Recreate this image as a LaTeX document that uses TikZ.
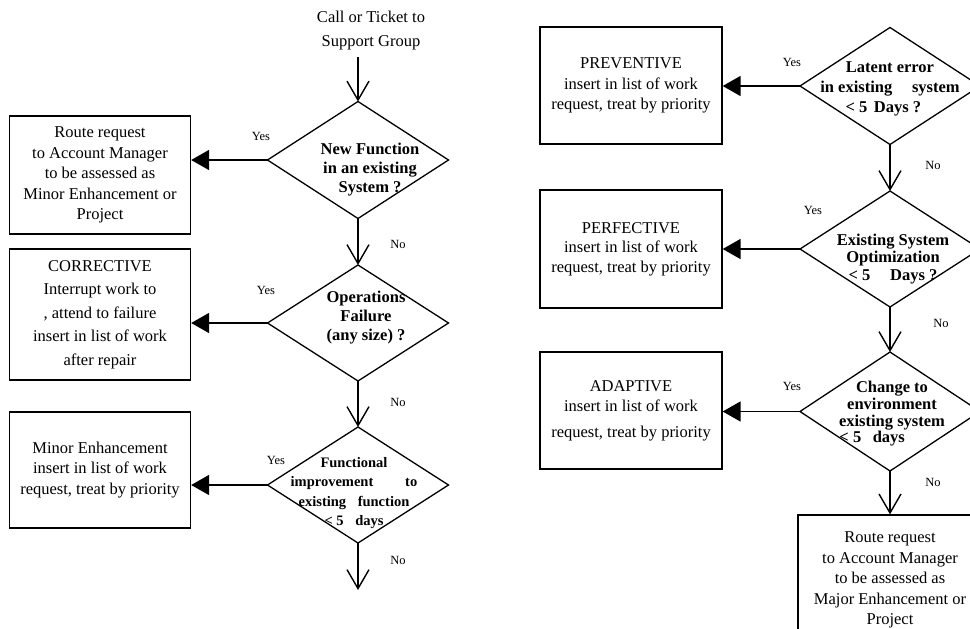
\documentclass[tikz,border=0pt]{standalone}
\usepackage{fontspec}
\setmainfont{Liberation Serif}
\usetikzlibrary{arrows.meta,shapes.geometric}
\tikzset{
	taskbox/.style={draw, line width=1.3pt, minimum width=181pt, inner sep=0pt, align=center, font=\fontsize{16.5}{20.5}\selectfont},
	decision/.style={draw, diamond, line width=1.3pt, minimum width=181pt, minimum height=117pt, inner sep=0pt, outer sep=0pt},
	question/.style={align=center, inner sep=0pt, font=\bfseries\fontsize{16.5}{19}\selectfont},
	answer/.style={inner sep=0pt, font=\fontsize{12.5}{14}\selectfont},
	flowdown/.style={line width=1.4pt, -{Straight Barb[length=19pt,width=22pt]}},
	flowleft/.style={line width=1.6pt, -{Triangle[length=18pt,width=20pt]}}
}

\begin{document}
\begin{tikzpicture}[x=1pt, y=-1pt]
			%%%%% START %%%%%
			\useasboundingbox (0, 0) rectangle (970, 629);
			
			\node[align=center, font=\fontsize{16.5}{24}\selectfont] (call) at (371, 31) {Call or Ticket to\\Support Group};
			\coordinate (start) at (358, 57);
			
			\node[decision] (newfn) at (358, 160) {};
			\node[question] (newfnq) at (370, 170) {New Function\\in an existing\\System ?};
			\node[taskbox, minimum height=118pt] (minorproj) at (100, 175) {Route request\\to Account Manager\\to be assessed as\\Minor Enhancement or\\Project};
			
			\node[decision, minimum height=116pt] (opfail) at (358, 323) {};
			\node[question] (opfailq) at (366, 318) {Operations\\Failure\\(any size) ?};
			\node[taskbox, minimum height=131pt, font=\fontsize{16.5}{23.5}\selectfont] (corrective) at (100, 314.5) {CORRECTIVE\\Interrupt work to\\, attend to failure\\insert in list of work\\after repair};
			
			\node[decision, minimum height=116pt] (funcimp) at (358, 485) {};
			\node[question, font=\bfseries\fontsize{14.5}{19.3}\selectfont] (funcimpq) at (354, 493) {Functional\\improvement\hspace{2.2em}to\\existing\hspace{0.8em}function\\< 5\hspace{0.8em}days};
			\node[taskbox, minimum height=116pt] (minorenh) at (100, 470) {Minor Enhancement\\insert in list of work\\request, treat by priority};
			\coordinate (out) at (358, 590);
			
			\node[decision, minimum width=180pt] (latent) at (890, 86) {};
			\node[question, font=\bfseries\fontsize{16.5}{20}\selectfont] (latentq) at (890, 89) {Latent error\\in existing\hspace{1.2em}system\\< 5\hspace{0.4em}Days ?\hspace*{0.8em}};
			\node[taskbox, minimum width=182pt, minimum height=117pt] (preventive) at (631, 85.5) {PREVENTIVE\\insert in list of work\\request, treat by priority};
			
			\node[decision, minimum width=180pt, minimum height=116pt] (optim) at (890, 249) {};
			\node[question, font=\bfseries\fontsize{16.5}{17.5}\selectfont] (optimq) at (893, 259) {Existing System\\Optimization\\< 5\hspace{1.2em}Days ?};
			\node[taskbox, minimum width=182pt, minimum height=118pt, font=\fontsize{16.5}{19.5}\selectfont] (perfective) at (631, 249) {PERFECTIVE\\insert in list of work\\request, treat by priority};
			
			\node[decision, minimum width=180pt, minimum height=119pt] (environ) at (890, 411.5) {};
			\node[question, font=\bfseries\fontsize{16.5}{16.7}\selectfont] (environq) at (892, 414) {Change to\\environment\\existing system\\< 5\hspace{0.7em}days\hspace*{2.4em}};
			\node[taskbox, minimum width=182pt, minimum height=117pt] (adaptive) at (631, 410.5) {ADAPTIVE\\insert in list of work\\[5pt]request, treat by priority};
			
			\node[taskbox, minimum width=184pt, minimum height=130pt] (majorproj) at (890, 580) {Route request\\to Account Manager\\to be assessed as\\Major Enhancement or\\Project};
			
			% connectors
			\draw[flowdown] (start) -- (newfn.north);
			\draw[flowleft] (newfn.west) -- (newfn.west -| minorproj.east);
			\draw[flowdown] (newfn.south) -- (opfail.north);
			\draw[flowleft] (opfail.west) -- (opfail.west -| corrective.east);
			\draw[flowdown] (opfail.south) -- (funcimp.north);
			\draw[flowleft] (funcimp.west) -- (funcimp.west -| minorenh.east);
			\draw[flowdown] (funcimp.south) -- (out);
			
			\draw[flowleft] (latent.west) -- (latent.west -| preventive.east);
			\draw[flowdown] (latent.south) -- (optim.north);
			\draw[flowleft] (optim.west) -- (optim.west -| perfective.east);
			\draw[flowdown] (optim.south) -- (environ.north);
			\draw[flowleft] (environ.west) -- (environ.west -| adaptive.east);
			\draw[flowdown] (environ.south) -- (majorproj.north);
			
			% yes / no
			\node[answer] (yes1) at (261, 136) {Yes};
			\node[answer] (no1) at (398, 244) {No};
			\node[answer] (yes2) at (266, 290) {Yes};
			\node[answer] (no2) at (398, 402) {No};
			\node[answer] (yes3) at (276, 460) {Yes};
			\node[answer] (no3) at (398, 560) {No};
			\node[answer] (yes4) at (792, 62) {Yes};
			\node[answer] (no4) at (933, 165) {No};
			\node[answer] (yes5) at (813, 210) {Yes};
			\node[answer] (no5) at (941, 323) {No};
			\node[answer] (yes6) at (792, 386) {Yes};
			\node[answer] (no6) at (933, 482) {No};
			
			%%%%% END %%%%%
\end{tikzpicture}
\end{document}
